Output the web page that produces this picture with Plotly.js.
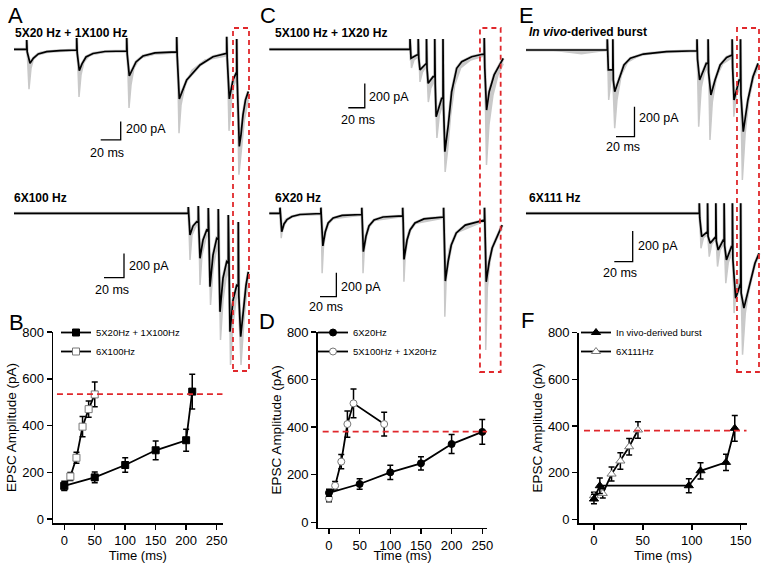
<!DOCTYPE html>
<html><head><meta charset="utf-8">
<script src="https://cdn.plot.ly/plotly-3.0.1.min.js"></script>
<style>html,body{margin:0;padding:0;background:#fff}#chart{width:762px;height:563px}</style>
</head><body><div id="chart"></div>
<script>
// ================= DATA =================
// Panel B
const bTime5x20 = [0, 50, 100, 150, 200, 210];
const bAmp5x20  = [142, 178, 231, 294, 337, 545];
const bErr5x20  = [20, 23, 31, 40, 47, 74];
const bTime6x100 = [0, 10, 20, 30, 40, 50];
const bAmp6x100  = [140, 182, 262, 395, 470, 533];
const bErr6x100  = [15, 17, 24, 43, 35, 53];
// Panel D
const dTime6x20 = [0, 50, 100, 150, 200, 250];
const dAmp6x20  = [124, 161, 210, 248, 329, 380];
const dErr6x20  = [15, 22, 30, 28, 40, 52];
const dTime5x100 = [0, 10, 20, 30, 40, 90];
const dAmp5x100  = [101, 154, 255, 413, 500, 413];
const dErr5x100  = [15, 18, 30, 55, 60, 50];
// Panel F
const fTimeVivo = [0, 6, 97, 109, 135, 144];
const fAmpVivo  = [87, 144, 144, 208, 244, 390];
const fErrVivo  = [20, 33, 30, 35, 35, 55];
const fTime6x111 = [0, 9, 18, 27, 36, 45];
const fAmp6x111  = [101, 111, 194, 250, 311, 383];
const fErr6x111  = [15, 20, 30, 35, 35, 35];
// Reference (last-EPSC) levels, red dashed lines
const refLevels = [534, 381, 380];

// Trace panels: time (ms), current (pA). Black = mean, gray = individual sweeps (deepest)
const aTopT = [-12.7,0,0,0.5,3.3,6.6,11.6,20,33.3, 50,50,50.5,52.6,55.3,59.3,66.3,78.3, 100,100,100.5,102.6,105.3,109.3,116.3,128.3, 150,150,150.5,152.6,160,173.3,186.3, 200,200,200.5,202.6,206.3, 210,210,210.5,212.6,214.3,216.3,218.8,221.6];
const aTopI = [0,0,101,-29,-153,-98,-51,-26,-15, -8,123,-40,-233,-160,-84,-46,-24, -19,123,-51,-291,-226,-138,-73,-40, -29,134,-73,-542,-335,-171,-81, -44,137,-95,-542,-335, -247,112,-335,-1062,-935,-717,-553,-462];
const aTopGT = [-12.7,0,0,0.8,2.3,4.3,7.3,13.3,28.3, 50,50,50.8,52.3,54.3,57.3,63.3,78.3, 100,100,100.8,102.3,104.3,107.3,113.3,128.3, 150,150,150.8,152.3,154.3,158.3,165.3,178.3, 200,200,200.8,202.3,204.8,207.3, 210,210,210.7,212.2,214.7,217.7,221.6];
const aTopGI = [0,0,80,-62,-436,-207,-84,-35,-13, -8,80,-73,-520,-280,-138,-62,-29, -24,80,-95,-640,-390,-204,-95,-51, -40,80,-142,-916,-611,-393,-229,-117, -73,80,-171,-891,-553,-389, -313,47,-498,-1370,-1097,-770,-553];

const aBotT = [-174.3,0,0,0.5,1.7,4.7,8.4, 10,10,10.5,11.7,14.7,18.4, 20,20,20.5,21.7,24.7,28.4, 30,30,30.5,31.7,34.7,38.4, 40,40,40.5,41.7,44.7,48.4, 50,50,50.5,52.4,55.2,57.7,60];
const aBotI = [0,0,52,-39,-179,-105,-69, -75,60,-121,-370,-219,-137, -145,44,-220,-604,-344,-206, -215,36,-303,-811,-533,-398, -410,-14,-466,-975,-716,-593, -600,-72,-675,-1016,-757,-593,-482];
const aBotGT = [-174.3,0,0,0.7,1.7,3.7,7.7, 10,10,10.7,11.7,13.7,17.7, 20,20,20.7,22.2,24.7,27.7, 30,30,30.7,32.2,34.7,37.7, 40,40,40.7,42.2,44.7,47.7, 50,50,50.7,52.7,55.7,58.2,60];
const aBotGI = [0,0,52,-96,-384,-179,-105, -88,60,-179,-590,-343,-204, -171,44,-285,-755,-467,-319, -286,36,-401,-1043,-714,-533, -484,-14,-590,-1249,-920,-714, -673,-72,-796,-1249,-878,-673,-590];

const cTopT = [-170.5,0,0,0.6,1.2,8.1, 10,10,10.6,12.1,19, 20,20,20.6,22,28, 30,30,30.6,31.7,38.4, 40,40,40.6,42.3,46.4,50.5,56.6,62.7,74.8,87.6, 90,90,90.6,92.8,96,102,108,113];
const cTopI = [0,0,85,-22,-74,-47, -47,85,-72,-170,-115, -115,85,-154,-280,-225, -225,85,-294,-555,-403, -403,85,-458,-843,-623,-349,-156,-102,-61,-41, -41,93,-150,-500,-349,-211,-129,-74];
const cTopGT = [-170.5,0,0,0.6,1.8,4.8, 10,10,10.8,12.1,15.1, 20,20,20.7,22.2,25.2, 30,30,30.8,32.6,35.6, 40,40,40.8,42.6,45.6,49.3,54.2,61.4,73.5, 90,90,90.9,92.7,95.7,100.6,106.7,113];
const cTopGI = [0,0,85,-47,-154,-88, -63,85,-132,-268,-187, -137,85,-212,-434,-319, -253,85,-376,-730,-541, -442,85,-582,-1010,-829,-541,-294,-154,-88, -55,93,-253,-952,-623,-376,-211,-121];

const cBotT = [-13.1,0,0,0.6,2.1,4.9,8.6,14.7,24.4, 50,50,50.6,52.4,55.3,58.9,65,76, 100,100,100.6,101.9,105.2,108.8,115,126, 150,150,150.6,151.6,155.3,159,165,176, 200,200,200.6,202.1,205.8,209.4,215.5,226.5, 250,250,250.6,252.1,255.7,259.4,264.3,271.6];
const cBotI = [0,0,47,-22,-153,-89,-52,-27,-10, -2,47,-39,-272,-156,-81,-39,-18, -10,47,-56,-320,-189,-106,-56,-31, -22,47,-73,-384,-223,-139,-81,-47, -31,47,-98,-565,-391,-264,-164,-98, -56,47,-123,-571,-406,-289,-206,-98];
const cBotGT = [-13.1,0,0,0.5,1.5,3.5,7,15, 50,50,50.5,51.5,53.5,57,65, 100,100,100.5,101.5,103.5,107,115, 150,150,150.5,151.5,153.5,157,165, 200,200,200.5,201.5,203.5,207,215, 250,250,250.5,251.5,253.5,257,263,271.6];
const cBotGI = [0,0,47,-40,-208,-100,-50,-20, -8,47,-60,-500,-230,-110,-45, -15,47,-70,-500,-240,-125,-60, -28,47,-80,-570,-290,-160,-85, -40,47,-110,-861,-480,-290,-165, -65,47,-130,-1139,-620,-360,-220,-130];

const eTopT = [-87.9,0,0,0.5,1.1, 6,6,6.5,8,12.7,18,25,39,64, 97,97,97.5,99.8,107, 109,109,109.5,112,116.5,122,129, 135,135,135.5,137,142.5, 144,144,144.5,147,152,157.5,163];
const eTopI = [0,0,71,-40,-133, -133,71,-200,-278,-189,-100,-55,-27,-11, -5,71,-60,-200,-89, -89,71,-150,-300,-200,-100,-49, -33,71,-120,-333,-200, -200,71,-300,-545,-333,-178,-89];
const eTopGT = [-87.9,-60,-28,-5,0,0,0.5,1.5,4, 6,6,6.5,8,10.5,15,22,35,60, 97,97,97.5,98.8,101.5,105, 109,109,109.5,111,113.5,118,125, 135,135,135.5,136.8,139.5, 144,144,144.5,146,149,153,158,163];
const eTopGI = [0,0,-25,-3,0,71,-100,-333,-200, -200,71,-280,-522,-330,-170,-80,-35,-12, -5,71,-120,-511,-250,-150, -110,71,-180,-600,-350,-180,-90, -50,71,-150,-445,-300, -250,71,-350,-867,-560,-330,-190,-120];

const eBotT = [-188.4,0,0,0.5,2.6,8, 9,9,9.5,11.8,17, 18,18,18.5,20.5,26, 27,27,27.5,29.5,35, 36,36,36.5,39.5,44.5, 45,45,45.5,48.5,55,60.5,65];
const eBotI = [0,0,65,-30,-152,-119, -119,65,-150,-195,-152, -152,65,-180,-239,-174, -174,65,-210,-304,-217, -217,65,-300,-553,-455, -455,65,-520,-618,-455,-325,-260];
const eBotGT = [-188.4,0,0,0.5,1.8,4.5, 9,9,9.5,10.8,13.5, 18,18,18.5,19.8,22.5, 27,27,27.5,28.8,31.5, 36,36,36.5,37.8,40.5, 45,45,45.5,47,50,55,60,65];
const eBotGI = [0,0,65,-60,-228,-160, -135,65,-170,-282,-200, -165,65,-200,-347,-240, -195,65,-240,-455,-320, -250,65,-320,-650,-480, -400,65,-500,-921,-650,-460,-340,-280];

// Scale bar sizes
const BAR_MS = 20, BAR_PA = 200;

// ================= GEOMETRY / STYLE =================
const W = 762, H = 563;
const FONT = 'Arial, "Liberation Sans", Helvetica, sans-serif';
const GRAY = '#c9c9c9', RED = '#e0282c';
// box: [xpx0, xpx1, ypx0, ypx1]; xe: px of t=0; kx: px per ms; base: px of 0 pA; sy: px per pA
const tracePanels = [
  {t:aTopT, i:aTopI, gt:aTopGT, gi:aTopGI, box:[0,255,0,250],   xe:26.7,  kx:1,     base:49.3,  sy:0.0915, bar:[74,-989],  title:'<b>5X20 Hz + 1X100 Hz</b>', tpos:[13,33],   lbl200:[124,129],  lbl20:[106.7,153]},
  {t:aBotT, i:aBotI, gt:aBotGT, gi:aBotGI, box:[0,255,150,400], xe:188.3, kx:1,     base:213.3, sy:0.1215, bar:[-84.3,-530], title:'<b>6X100 Hz</b>', tpos:[12,198.3], lbl200:[127,266],  lbl20:[112,290]},
  {t:cTopT, i:cTopI, gt:cTopGT, gi:cTopGI, box:[255,510,0,250], xe:410,   kx:0.825, base:49.3,  sy:0.1215, bar:[-74.8,-481], title:'<b>5X100 Hz + 1X20 Hz</b>', tpos:[272.7,33], lbl200:[367.3,96.7], lbl20:[358,120]},
  {t:cBotT, i:cBotI, gt:cBotGT, gi:cBotGI, box:[255,510,150,400], xe:280, kx:0.818, base:213.3, sy:0.12,   bar:[48.9,-695], title:'<b>6X20 Hz</b>', tpos:[272.7,198.3], lbl200:[339.3,287.3], lbl20:[325.8,306.7]},
  {t:eTopT, i:eTopI, gt:eTopGT, gi:eTopGI, box:[510,762,0,250], xe:607.3, kx:0.925, base:50,    sy:0.15,   bar:[9.4,-578], title:'<b><i>In vivo</i>-derived burst</b>', tpos:[526.7,32.3], lbl200:[636.7,118.3], lbl20:[623.3,146.7]},
  {t:eBotT, i:eBotI, gt:eBotGT, gi:eBotGI, box:[510,762,150,400], xe:699.3, kx:0.92, base:213.3, sy:0.1535, bar:[-92.4,-315], title:'<b>6X111 Hz</b>', tpos:[526.7,198.3], lbl200:[636,246], lbl20:[620.3,273.3]}
];
// red dashed rectangles: x range in the top-trace axis units (ms), y in px
const redRects = [
  {xref:'x',  x:[206.3,222.3], y:[28,371]},
  {xref:'x3', x:[84.8,109.9],  y:[28,372]},
  {xref:'x5', x:[140.2,164],   y:[28,372]}
];

const data = [];
const layout = {
  width: W, height: H,
  margin: {l:0, r:0, t:0, b:0, pad:0},
  paper_bgcolor: '#fff', plot_bgcolor: 'rgba(0,0,0,0)',
  font: {family: FONT, color: '#000', size: 12},
  showlegend: true,
  shapes: [], annotations: []
};
const sfx = n => (n === 1 ? '' : String(n));
const px2x = p => p / W, py2y = p => 1 - p / H;

tracePanels.forEach((p, k) => {
  const n = k + 1, xs = 'x' + sfx(n), ys = 'y' + sfx(n);
  layout['xaxis' + sfx(n)] = {domain:[p.box[0]/W, p.box[1]/W], range:[(p.box[0]-p.xe)/p.kx, (p.box[1]-p.xe)/p.kx], visible:false, fixedrange:true, anchor: ys};
  layout['yaxis' + sfx(n)] = {domain:[1-p.box[3]/H, 1-p.box[2]/H], range:[-(p.box[3]-p.base)/p.sy, -(p.box[2]-p.base)/p.sy], visible:false, fixedrange:true, anchor: xs};
  data.push({type:'scatter', mode:'lines', x:p.t, y:p.i, xaxis:xs, yaxis:ys, showlegend:false, hoverinfo:'skip', line:{color:GRAY, width:3}});
  data.push({type:'scatter', mode:'lines', x:p.gt, y:p.gi, xaxis:xs, yaxis:ys, showlegend:false, hoverinfo:'skip', fill:'tonexty', fillcolor:GRAY, line:{color:GRAY, width:1.5}});
  data.push({type:'scatter', mode:'lines', x:p.t, y:p.i, xaxis:xs, yaxis:ys, showlegend:false, hoverinfo:'skip', line:{color:'#000', width:1.7}});
  data.push({type:'scatter', mode:'lines', x:[p.bar[0], p.bar[0]+BAR_MS, p.bar[0]+BAR_MS], y:[p.bar[1], p.bar[1], p.bar[1]+BAR_PA], xaxis:xs, yaxis:ys, showlegend:false, hoverinfo:'skip', line:{color:'#000', width:1.3}});
  layout.annotations.push({xref:'paper', yref:'paper', x:px2x(p.tpos[0]), y:py2y(p.tpos[1]), xanchor:'left', yanchor:'middle', text:p.title, showarrow:false, font:{size:12, family:FONT, color:'#000'}});
  layout.annotations.push({xref:'paper', yref:'paper', x:px2x(p.lbl200[0]), y:py2y(p.lbl200[1]), xanchor:'left', yanchor:'middle', text:BAR_PA + ' pA', showarrow:false, font:{size:12.5, family:FONT, color:'#000'}});
  layout.annotations.push({xref:'paper', yref:'paper', x:px2x(p.lbl20[0]), y:py2y(p.lbl20[1]), xanchor:'center', yanchor:'middle', text:BAR_MS + ' ms', showarrow:false, font:{size:12.5, family:FONT, color:'#000'}});
});

redRects.forEach(r => {
  layout.shapes.push({type:'rect', xref:r.xref, yref:'paper', x0:r.x[0], x1:r.x[1], y0:py2y(r.y[1]), y1:py2y(r.y[0]), line:{color:RED, width:1.8, dash:'5px,4px'}, fillcolor:'rgba(0,0,0,0)'});
});

// Summary plots
const plotPanels = [
  {n:7, xd:[53,222.7],   yd:[332,523],   xr:[-18.5,260],  yr:[-17.1,800], xt:[0,50,100,150,200,250], ref:refLevels[0], refx:[-12,260], leg:'legend',  legx:56, xstand:0,
   s:[{x:bTime6x100, y:bAmp6x100, e:bErr6x100, name:'6X100Hz', sym:'square', open:true},
      {x:bTime5x20, y:bAmp5x20, e:bErr5x20, name:'5X20Hz + 1X100Hz', sym:'square', open:false}]},
  {n:8, xd:[317.7,487.3], yd:[332,527.7], xr:[-18.4,258.2], yr:[-22.7,800], xt:[0,50,100,150,200,250], ref:refLevels[1], refx:[-10.3,258], leg:'legend2', legx:313, xstand:0,
   s:[{x:dTime5x100, y:dAmp5x100, e:dErr5x100, name:'5X100Hz + 1X20Hz', sym:'circle', open:true},
      {x:dTime6x20, y:dAmp6x20, e:dErr6x20, name:'6X20Hz', sym:'circle', open:false}]},
  {n:9, xd:[578.7,747.3], yd:[332.7,523.3], xr:[-15.6,156.8], yr:[-17.1,800], xt:[0,50,100,150], ref:refLevels[2], refx:[-10.2,156], leg:'legend3', legx:576, xstand:0,
   s:[{x:fTime6x111, y:fAmp6x111, e:fErr6x111, name:'6X111Hz', sym:'triangle-up', open:true},
      {x:fTimeVivo, y:fAmpVivo, e:fErrVivo, name:'In vivo-derived burst', sym:'triangle-up', open:false}]}
];
const axStyle = {showline:true, linecolor:'#000', linewidth:1.5, ticks:'outside', ticklen:5, tickwidth:1.5, tickcolor:'#000', showgrid:false, zeroline:false, fixedrange:true, tickfont:{size:13, family:FONT, color:'#000'}};
plotPanels.forEach(p => {
  const xs = 'x' + p.n, ys = 'y' + p.n;
  layout['xaxis' + p.n] = Object.assign({}, axStyle, {domain:[p.xd[0]/W, p.xd[1]/W], range:p.xr, anchor:ys, tickmode:'array', tickvals:p.xt, title:{text:'Time (ms)', font:{size:13, family:FONT, color:'#000'}, standoff:p.xstand}});
  layout['yaxis' + p.n] = Object.assign({}, axStyle, {domain:[1-p.yd[1]/H, 1-p.yd[0]/H], range:p.yr, anchor:xs, tickmode:'array', tickvals:[0,200,400,600,800], title:{text:'EPSC Amplitude (pA)', font:{size:13.5, family:FONT, color:'#000'}, standoff:2}});
  p.s.forEach(s => {
    data.push({type:'scatter', mode:'lines+markers', x:s.x, y:s.y, xaxis:xs, yaxis:ys, name:s.name, legend:p.leg, hoverinfo:'skip',
      line:{color:'#000', width:1.8},
      marker:{symbol:s.sym, size:s.sym==='triangle-up'?8:7, color:s.open?'#fff':'#000', line:{color:s.open?'#777':'#000', width:1}},
      error_y:{type:'data', array:s.e, visible:true, color:'#000', thickness:1.5, width:3}});
  });
  layout.shapes.push({type:'line', xref:xs, yref:ys, x0:p.refx[0], x1:p.refx[1], y0:p.ref, y1:p.ref, line:{color:RED, width:1.8, dash:'6px,4px'}});
  layout[p.leg] = {x:px2x(p.legx), y:py2y(318), xanchor:'left', yanchor:'top', bgcolor:'rgba(0,0,0,0)', borderwidth:0, font:{size:9.5, family:FONT, color:'#000'}, traceorder:'reversed', itemwidth:30, tracegroupgap:0};
});

// Panel letters
[['A',15,15.5],['B',16,322],['C',268,15.5],['D',266.5,321],['E',526.5,15.5],['F',527,320.5]].forEach(l => {
  layout.annotations.push({xref:'paper', yref:'paper', x:px2x(l[1]), y:py2y(l[2]), xanchor:'center', yanchor:'middle', text:l[0], showarrow:false, font:{size:22, family:FONT, color:'#000'}});
});

Plotly.newPlot('chart', data, layout, {staticPlot:true, displayModeBar:false});
</script></body></html>
